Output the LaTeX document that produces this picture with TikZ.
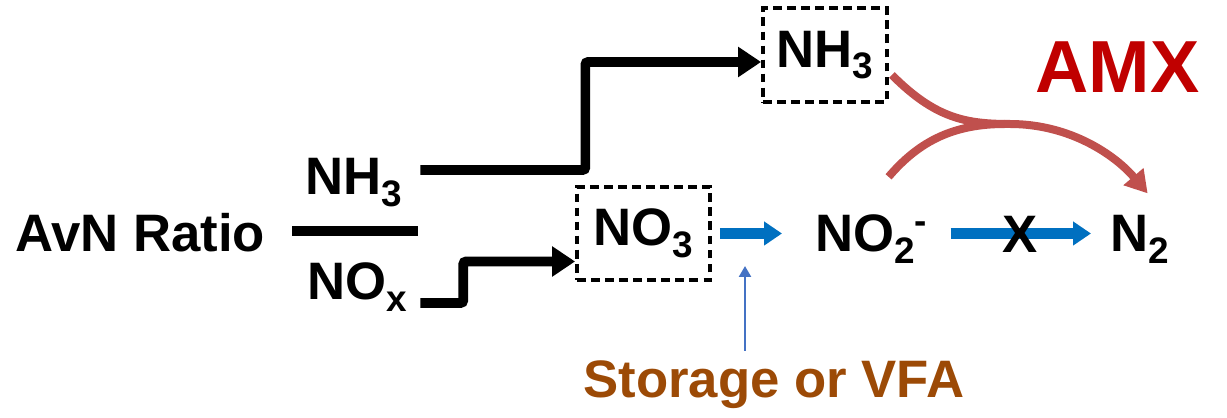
\documentclass[tikz,border=0pt]{standalone}
\usepackage{fontspec}
\setmainfont{Liberation Sans}
\usetikzlibrary{arrows.meta}

\definecolor{amxred}{RGB}{192,0,0}
\definecolor{amxpath}{RGB}{192,80,77}
\definecolor{dnblue}{RGB}{0,112,192}
\definecolor{feedblue}{RGB}{68,114,196}
\definecolor{vfabrown}{RGB}{156,74,6}

\newcommand{\chemsub}[1]{\raisebox{-0.22em}{\scalebox{0.7}{#1}}}
\newcommand{\chemsup}[1]{\raisebox{0.36em}{\scalebox{0.7}{#1}}}

\begin{document}
\begin{tikzpicture}[x=0.02cm, y=-0.02cm,
		lbl/.style={inner sep=0pt, font=\fontsize{30}{36}\selectfont\bfseries},
		pool/.style={lbl, draw, line width=2.2pt, dash pattern=on 5pt off 3pt},
		flow/.style={line width=5.5pt, rounded corners=1.5pt, -{Triangle[length=0.46cm,width=0.58cm]}},
		conv/.style={draw=dnblue, line width=0.23cm, -{Triangle[length=0.36cm,width=0.46cm]}},
		feed/.style={draw=feedblue, line width=1.4pt, -{Triangle[length=0.22cm,width=0.24cm]}},
		amx/.style={draw=amxpath, line width=0.16cm, -{Triangle[length=0.44cm,width=0.5cm]}},
		amxjoin/.style={draw=amxpath, line width=0.16cm}]
		\useasboundingbox (0,0) rectangle (1227,418);

		% ratio on the left
		\node [lbl, anchor=base west] (avn) at (15,252) {AvN Ratio};
		\node [lbl, anchor=base west] (nhL) at (305,195) {NH\chemsub{3}};
		\node [lbl, anchor=base west] (noxL) at (307,300) {NO\chemsub{x}};
		\draw [line width=0.21cm] (292,231) -- (418,231);

		% pools and products
		\node [pool, minimum width=2.48cm, minimum height=1.88cm] (nhbox) at (825,55) {NH\chemsub{3}};
		\node [pool, minimum width=2.66cm, minimum height=1.86cm] (nobox) at (643.5,233.5) {NO\chemsub{3}};
		\node [lbl, anchor=base west] (no2) at (815,252) {NO\chemsub{2}\chemsup{-}};
		\node [lbl, anchor=base west] (n2) at (1110,252) {N\chemsub{2}};
		\node [lbl, anchor=base west, text=amxred, font=\fontsize{42}{48}\selectfont\bfseries] (amxL) at (1035,93) {AMX};
		\node [lbl, anchor=base west, text=vfabrown] (vfa) at (583,398) {Storage or VFA};

		% split of the ratio
		\draw [flow] ([shift={(18,-25)}]nhL.base east) -- ++(165,0) |- ([shift={(0,7)}]nhbox.west);
		\draw [flow] ([shift={(13,3)}]noxL.base east) -- ++(43,0) |- ([shift={(0,28)}]nobox.west);

		% denitrification steps
		\draw [conv, shorten <=0.16cm, shorten >=0.66cm] (nobox.east) -- (nobox.east -| no2.west);
		\draw [conv, shorten <=0.46cm, shorten >=0.38cm] (nobox.east -| no2.east) -- (nobox.east -| n2.west);
		\node [lbl, anchor=base] (xmark) at (1020,253) {X};

		% carbon source
		\coordinate (feedin) at (745,266);
		\draw [feed] ([yshift=0.2cm]vfa.north -| feedin) -- (feedin);

		% anammox
		\draw [amx] ([shift={(3,20)}]nhbox.east) .. controls (935,118) and (965,124) .. (1010,124)
			.. controls (1070,124) and (1115,155) .. ([shift={(8,-22)}]n2.north);
		\draw [amxjoin] ([shift={(-39,-38)}]no2.north east) .. controls (920,140) and (955,124) .. (1005,124);
	\end{tikzpicture}
\end{document}
